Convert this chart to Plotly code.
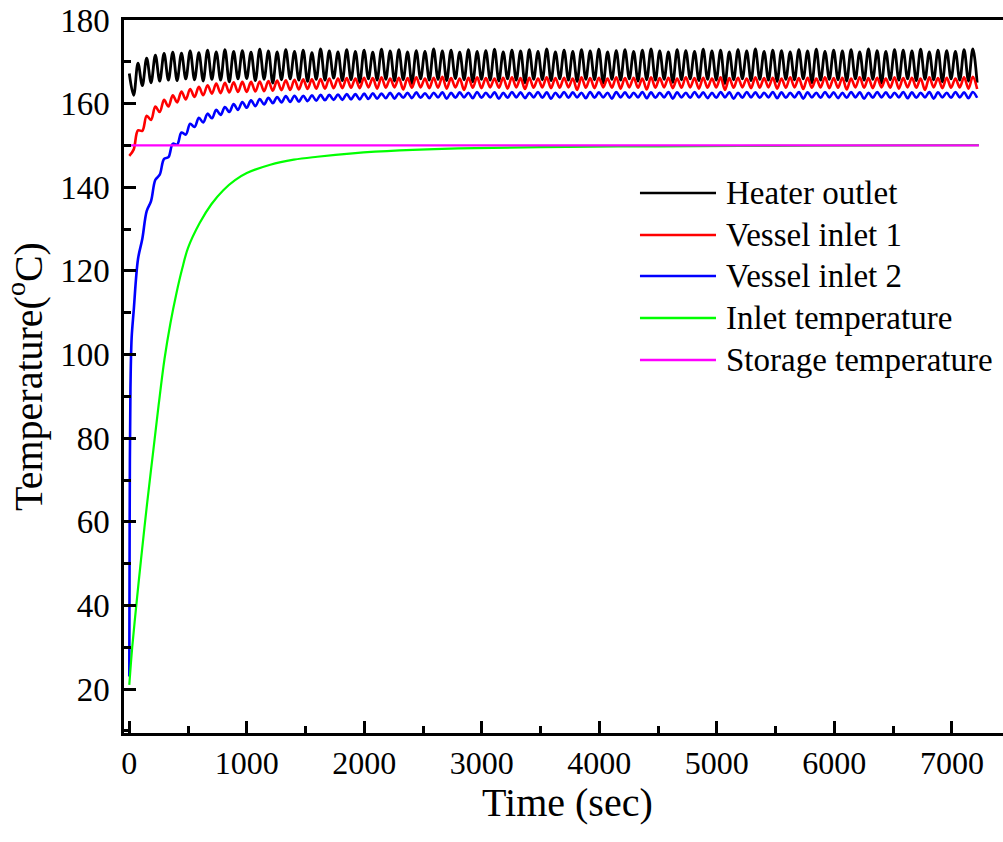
import plotly.graph_objects as go

# Logger sampling interval for the oscillating loop temperatures (s)
SAMPLE_STEP = 37

# Heater outlet temperature (degC), one value per sample
heater_outlet = [
    167.2, 162.0, 169.7, 164.3, 170.9, 165.0, 171.6, 165.4, 172.0, 165.6,
    172.3, 165.5, 172.1, 165.9, 172.6, 165.7, 172.2, 165.4, 172.8, 165.8,
    172.4, 165.6, 172.9, 165.2, 172.5, 165.9, 172.7, 166.0, 172.3, 165.5,
    173.0, 165.8, 172.6, 164.9, 172.4, 165.7, 172.9, 165.9, 172.5, 165.6,
    172.8, 165.3, 172.2, 165.8, 173.1, 165.6, 172.6, 166.1, 172.4, 165.5,
    172.9, 165.7, 172.5, 165.1, 172.8, 165.9, 172.3, 165.6, 173.0, 165.8,
    172.6, 165.4, 172.9, 165.7, 172.4, 164.8, 172.7, 165.9, 172.5, 165.6,
    173.1, 165.8, 172.6, 165.5, 172.8, 166.0, 172.3, 165.7, 172.9, 165.2,
    172.5, 165.8, 172.7, 165.6, 173.0, 165.4, 172.4, 165.9, 172.8, 165.6,
    172.6, 165.0, 172.9, 165.8, 172.5, 165.7, 173.1, 165.5, 172.4, 165.9,
    172.8, 165.6, 172.5, 165.3, 172.9, 165.8, 172.6, 165.7, 173.0, 164.9,
    172.4, 165.8, 172.7, 165.6, 172.9, 165.9, 172.5, 165.4, 172.8, 165.7,
    173.1, 165.6, 172.6, 165.8, 172.4, 165.1, 172.9, 165.7, 172.7, 165.9,
    172.5, 165.5, 173.0, 165.8, 172.6, 165.6, 172.8, 164.8, 172.4, 165.7,
    172.9, 165.9, 172.6, 165.5, 173.1, 165.8, 172.5, 165.6, 172.8, 165.3,
    172.7, 165.8, 172.4, 165.7, 172.9, 165.9, 172.6, 165.0, 173.0, 165.6,
    172.5, 165.8, 172.8, 165.7, 172.6, 165.4, 172.9, 165.9, 172.4, 165.6,
    173.1, 165.8, 172.7, 164.9, 172.5, 165.7, 172.9, 165.6, 172.8, 165.9,
    172.6, 165.5, 173.0, 165.8, 172.4, 165.7, 172.8, 165.2, 172.7, 165.9,
    172.5, 165.6, 172.9, 165.4, 173.1, 165.0,
]

# Vessel inlet 1 temperature (degC)
vessel_inlet_1 = [
    147.5, 149.0, 153.6, 153.5, 157.1, 156.1, 159.3, 158.0, 160.9, 159.3,
    162.0, 160.3, 162.9, 161.0, 163.5, 161.6, 164.0, 162.0, 164.4, 162.4,
    164.8, 162.5, 165.0, 162.7, 165.1, 162.8, 165.2, 162.8, 165.2, 162.9,
    165.3, 163.0, 165.4, 163.1, 165.5, 163.2, 165.6, 163.3, 165.7, 163.4,
    165.8, 163.5, 165.8, 163.6, 165.9, 163.6, 166.0, 163.7, 166.0, 163.7,
    166.1, 163.8, 166.0, 163.7, 166.2, 163.9, 166.1, 163.6, 166.3, 163.8,
    166.0, 163.9, 166.2, 163.4, 166.1, 163.8, 166.3, 163.9, 166.0, 163.7,
    166.2, 163.8, 166.4, 163.6, 166.1, 163.9, 166.0, 163.3, 166.2, 163.8,
    166.3, 163.7, 166.1, 163.9, 166.0, 163.8, 166.2, 163.6, 166.3, 163.9,
    166.1, 163.5, 166.2, 163.8, 166.0, 163.9, 166.3, 163.7, 166.1, 163.8,
    166.2, 163.9, 166.0, 163.3, 166.3, 163.8, 166.1, 163.7, 166.2, 163.9,
    166.0, 163.8, 166.3, 163.6, 166.1, 163.9, 166.2, 163.8, 166.0, 163.4,
    166.3, 163.8, 166.1, 163.9, 166.2, 163.7, 166.0, 163.8, 166.3, 163.9,
    166.1, 163.6, 166.2, 163.8, 166.0, 163.9, 166.3, 163.3, 166.1, 163.8,
    166.2, 163.9, 166.0, 163.7, 166.3, 163.8, 166.1, 163.9, 166.2, 163.6,
    166.0, 163.8, 166.3, 163.9, 166.1, 163.5, 166.2, 163.8, 166.0, 163.9,
    166.3, 163.7, 166.1, 163.8, 166.2, 163.4, 166.0, 163.9, 166.3, 163.8,
    166.1, 163.7, 166.2, 163.9, 166.0, 163.8, 166.3, 163.6, 166.1, 163.9,
    166.2, 163.8, 166.0, 163.3, 166.3, 163.9, 166.1, 163.7, 166.2, 163.8,
    166.0, 163.9, 166.3, 163.6, 166.4, 163.5,
]

# Vessel inlet 2: fast start-up readings, then the regular samples from 37 s on
vessel_inlet_2_startup_time = [0, 2, 5, 10, 20]
vessel_inlet_2_startup = [23.0, 45.0, 75.0, 92.0, 104.0]
vessel_inlet_2 = [
    110.3, 122.8, 127.7, 134.3, 136.7, 141.8, 143.0, 146.8, 147.2, 150.4,
    150.2, 153.1, 152.6, 155.2, 154.4, 156.6, 155.5, 157.6, 156.5, 158.5,
    157.3, 159.2, 158.0, 159.9, 158.5, 160.4, 159.0, 160.8, 159.4, 161.1,
    159.8, 161.4, 160.1, 161.6, 160.3, 161.8, 160.4, 161.9, 160.5, 161.9,
    160.6, 162.0, 160.7, 162.1, 160.8, 162.1, 160.9, 162.2, 160.9, 162.3,
    161.0, 162.3, 161.0, 162.4, 161.1,
    162.5, 161.2, 162.4, 161.3, 162.6, 161.2, 162.5, 161.4, 162.6, 161.3,
    162.7, 161.4, 162.5, 161.3, 162.6, 161.5, 162.7, 161.2, 162.6, 161.4,
    162.7, 161.5, 162.6, 161.3, 162.8, 161.4, 162.6, 161.5, 162.7, 161.2,
    162.6, 161.4, 162.8, 161.5, 162.7, 161.3, 162.6, 161.5, 162.8, 161.4,
    162.7, 161.2, 162.6, 161.5, 162.8, 161.4, 162.7, 161.5, 162.6, 161.3,
    162.8, 161.4, 162.7, 161.5, 162.6, 161.2, 162.8, 161.5, 162.7, 161.4,
    162.6, 161.5, 162.8, 161.3, 162.7, 161.4, 162.6, 161.5, 162.8, 161.2,
    162.7, 161.5, 162.6, 161.4, 162.8, 161.5, 162.7, 161.3, 162.6, 161.4,
    162.8, 161.5, 162.7, 161.2, 162.6, 161.4, 162.8, 161.5, 162.7, 161.4,
    162.6, 161.5, 162.8, 161.3, 162.7, 161.4, 162.6, 161.5, 162.8, 161.2,
    162.7, 161.5, 162.6, 161.4, 162.8, 161.5, 162.7, 161.3, 162.6, 161.4,
    162.8, 161.5, 162.7, 161.2, 162.6, 161.4, 162.8, 161.5, 162.7, 161.4,
    162.6, 161.5, 162.8, 161.3, 162.7, 161.4, 162.6, 161.5, 162.8, 161.2,
    162.7, 161.5, 162.6, 161.4, 162.8, 161.5, 162.7, 161.3, 162.8, 161.4,
]

# Inlet temperature (degC): smooth warm-up curve
inlet_time = [0, 25, 63, 100, 150, 200, 250, 300, 350, 400, 450, 500, 600, 700,
              800, 900, 1000, 1200, 1400, 1600, 1900, 2300, 2800, 3500, 4500,
              5500, 6500, 7230]
inlet_temperature = [21.0, 30.0, 41.0, 51.0, 64.0, 76.0, 88.0, 99.0, 107.5,
                     114.5, 120.5, 125.5, 131.5, 136.0, 139.3, 141.7, 143.4,
                     145.4, 146.6, 147.3, 148.1, 148.8, 149.3, 149.6, 149.8,
                     149.9, 150.0, 150.1]

# Storage temperature set point (degC)
storage_time = [0, 7230]
storage_temperature = [150.0, 150.0]

series_names = ["Heater outlet", "Vessel inlet 1", "Vessel inlet 2",
                "Inlet temperature", "Storage temperature"]
series_colors = ["#000000", "#ff0000", "#0000ff", "#00ff00", "#ff00ff"]

time_grid = [SAMPLE_STEP * i for i in range(len(heater_outlet))]
vessel_2_time = vessel_inlet_2_startup_time + time_grid[1:]
vessel_2_values = vessel_inlet_2_startup + vessel_inlet_2

FONT = "Liberation Serif"

traces = [
    (time_grid, heater_outlet, 2.8, "spline"),
    (time_grid, vessel_inlet_1, 2.6, "spline"),
    (vessel_2_time, vessel_2_values, 2.6, "spline"),
    (inlet_time, inlet_temperature, 2.2, "spline"),
    (storage_time, storage_temperature, 2.2, "linear"),
]

fig = go.Figure()
for (xs, ys, w, shape), name, color in zip(traces, series_names, series_colors):
    fig.add_trace(go.Scatter(
        x=xs, y=ys, mode="lines", name=name, showlegend=False,
        line=dict(color=color, width=w, shape=shape, simplify=False),
    ))

axis_common = dict(
    showline=True, linecolor="black", linewidth=2.5,
    ticks="inside", ticklen=12, tickwidth=2.5, tickcolor="black",
    showgrid=False, zeroline=False,
)

fig.update_xaxes(
    **axis_common,
    range=[-45, 7435], tickmode="linear", tick0=0, dtick=1000, mirror=True,
    tickfont=dict(family=FONT, size=32, color="black"),
    minor=dict(tick0=0, dtick=500, ticks="inside", ticklen=7, tickwidth=2.5,
               tickcolor="black", showgrid=False),
)
fig.update_yaxes(
    **axis_common,
    range=[9.5, 180], tickmode="linear", tick0=0, dtick=20, mirror=False,
    tickfont=dict(family=FONT, size=33, color="black"),
    ticklabelstandoff=5,
    minor=dict(tick0=0, dtick=10, ticks="inside", ticklen=7, tickwidth=2.5,
               tickcolor="black", showgrid=False),
    title=dict(text="Temperature(<sup>o</sup>C)",
               font=dict(family=FONT, size=40, color="black"), standoff=6),
)

# x-axis title placed just under the tick labels
fig.add_annotation(xref="paper", yref="paper", x=0.505, y=-0.097,
                   text="Time (sec)", showarrow=False, xanchor="center",
                   yanchor="middle", borderpad=0,
                   font=dict(family=FONT, size=40, color="black"))

# Key: a short line sample beside each series name, in plot-area fractions
key_rows = [0.7574, 0.6985, 0.6410, 0.5820, 0.5231]
key_line_x = (0.587, 0.6735)
key_text_x = 0.6837
for name, color, yk in zip(series_names, series_colors, key_rows):
    fig.add_shape(type="line", xref="paper", yref="paper",
                  x0=key_line_x[0], x1=key_line_x[1], y0=yk, y1=yk,
                  line=dict(color=color, width=2.5))
    fig.add_annotation(xref="paper", yref="paper", x=key_text_x, y=yk,
                       text=name, showarrow=False, xanchor="left",
                       yanchor="middle", borderpad=0,
                       font=dict(family=FONT, size=33, color="black"))

fig.update_layout(
    width=1003, height=842,
    margin=dict(l=124, r=0, t=20, b=109),
    paper_bgcolor="white", plot_bgcolor="white",
    font=dict(family=FONT, color="black"),
    showlegend=False,
)

fig.write_html("out.html")
